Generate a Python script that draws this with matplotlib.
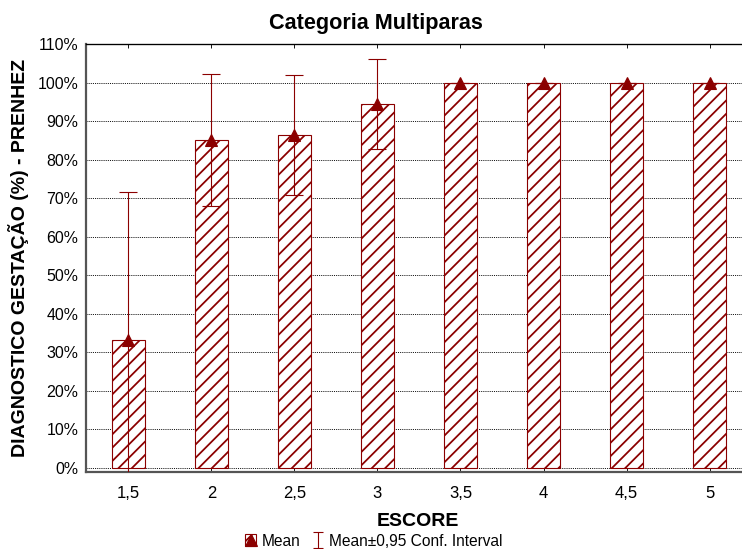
import matplotlib
matplotlib.use("Agg")
import matplotlib.pyplot as plt
import numpy as np

plt.rcParams['font.family'] = ['Liberation Sans', 'DejaVu Sans']
plt.rcParams['hatch.linewidth'] = 1.6
plt.rcParams['text.hinting'] = 'no_autohint'

categories = ["1,5", "2", "2,5", "3", "3,5", "4", "4,5", "5"]
means = [33.3, 85.0, 86.4, 94.4, 100.0, 100.0, 100.0, 100.0]
ci_low = [-5.0, 67.9, 70.8, 82.7, 100.0, 100.0, 100.0, 100.0]
ci_high = [71.7, 102.1, 101.9, 106.0, 100.0, 100.0, 100.0, 100.0]
yticks = [0, 10, 20, 30, 40, 50, 60, 70, 80, 90, 100, 110]

RED = '#8B0000'
W, H, DPI = 742, 549, 80
fig = plt.figure(figsize=(W / DPI, H / DPI), dpi=DPI)
ax = fig.add_axes([86 / W, 1 - 472 / H, (W - 86) / W + 0.01, (472 - 44) / H])

x = np.arange(len(categories))
bars = ax.bar(x, means, width=0.4, facecolor='white', edgecolor=RED,
              hatch='//', linewidth=1.0, zorder=2)

err = [np.array(means) - np.array(ci_low), np.array(ci_high) - np.array(means)]
eb = ax.errorbar(x, means, yerr=err, fmt='none', ecolor=RED, elinewidth=1.0,
                 capsize=7.7, capthick=1.0, zorder=3)
mk, = ax.plot(x, means, linestyle='none', marker='^', markersize=11,
              color=RED, zorder=4)
# legend proxy with narrower caps
eb_proxy = ax.errorbar([np.nan], [np.nan], yerr=[[1.0], [1.0]], fmt='none',
                       ecolor=RED, elinewidth=1.0, capsize=4.5, capthick=1.0)

ax.set_xlim(-0.51, 7.48)
ax.set_ylim(-1.04, 110)
ax.set_xticks(x)
ax.set_xticklabels(categories, fontsize=15)
ax.set_yticks(yticks)
ax.set_yticklabels([f"{v}%" for v in yticks], fontsize=14.3)
ax.tick_params(axis='x', direction='in', length=4, top=True, bottom=True,
               width=0.8, pad=13)
ax.tick_params(axis='y', length=0, pad=7)

ax.yaxis.grid(True, linestyle=(0, (1.2, 1.2)), color='black', linewidth=0.8, zorder=0)
ax.set_axisbelow(True)

for s in ['left', 'bottom']:
    ax.spines[s].set_color('#555555')
    ax.spines[s].set_linewidth(2.0)
ax.spines['top'].set_color('black')
ax.spines['top'].set_linewidth(1.2)
ax.spines['right'].set_visible(False)

ax.set_xlabel('ESCORE', fontsize=17.5, fontweight='bold', labelpad=9)
ax.set_ylabel('DIAGNOSTICO GESTAÇÃO (%) - PRENHEZ', fontsize=17.5,
              fontweight='bold', labelpad=8)

fig.text(376 / W, 1 - 23 / H, 'Categoria Multiparas', ha='center', va='center',
         fontsize=19.5, fontweight='bold')

fig.legend(handles=[(bars[0], mk), eb_proxy], labels=['Mean', 'Mean±0,95 Conf. Interval'],
           loc='center', bbox_to_anchor=(374 / W, 1 - 541 / H), ncol=2,
           frameon=False, fontsize=14, handlelength=0.7, handleheight=0.8,
           handletextpad=0.35, columnspacing=0.8, borderpad=0)

fig.savefig('out.png', dpi=DPI)
